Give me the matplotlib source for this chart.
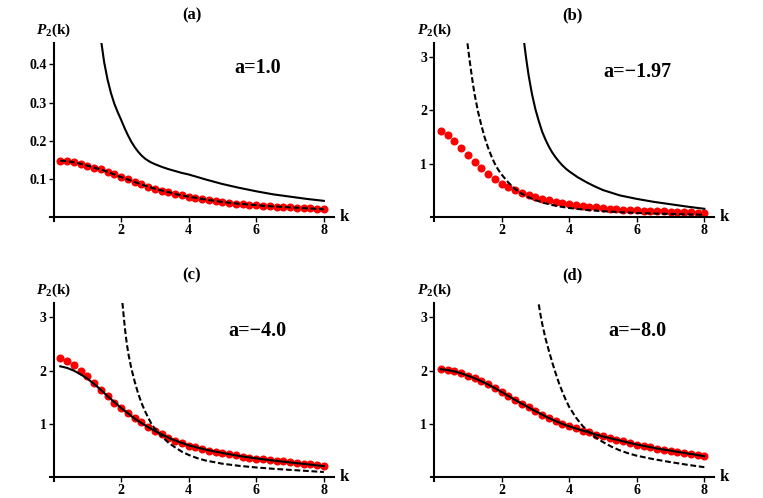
import numpy as np
import matplotlib
matplotlib.use("Agg")
import matplotlib.pyplot as plt

plt.rcParams["font.family"] = ["Liberation Serif", "DejaVu Serif"]
plt.rcParams["font.weight"] = "bold"
plt.rcParams["mathtext.fontset"] = "custom"
plt.rcParams["mathtext.rm"] = "Liberation Serif:bold"
plt.rcParams["mathtext.it"] = "Liberation Serif:italic:bold"
plt.rcParams["mathtext.bf"] = "Liberation Serif:bold"

# dot positions k = 0.2 ... 8.0
k_dots = np.round(np.arange(1, 41) * 0.2, 1)

# (a) a=1.0
a_dots = [0.148, 0.147, 0.144, 0.140, 0.135, 0.130, 0.125, 0.119, 0.112, 0.105,
          0.099, 0.092, 0.086, 0.080, 0.075, 0.070, 0.066, 0.061, 0.057, 0.054,
          0.051, 0.048, 0.045, 0.043, 0.040, 0.038, 0.036, 0.035, 0.033, 0.032,
          0.030, 0.029, 0.028, 0.027, 0.026, 0.025, 0.024, 0.023, 0.022, 0.021]
a_solid_k = [1.42, 1.5, 1.6, 1.7, 1.8, 1.9, 2.0, 2.1, 2.2, 2.3, 2.4, 2.5, 2.6,
             2.7, 2.8, 2.9, 3.0, 3.2, 3.4, 3.6, 3.8, 4.0, 4.5, 5.0, 5.5, 6.0,
             6.5, 7.0, 7.5, 8.0]
a_solid = [0.455, 0.405, 0.360, 0.325, 0.297, 0.275, 0.255, 0.234, 0.215, 0.198,
           0.184, 0.172, 0.162, 0.154, 0.148, 0.143, 0.139, 0.132, 0.126, 0.121,
           0.116, 0.112, 0.099, 0.087, 0.077, 0.068, 0.060, 0.054, 0.048, 0.043]

# (b) a=-1.97
b_dots = [1.61, 1.535, 1.425, 1.30, 1.166, 1.03, 0.92, 0.81, 0.717, 0.63,
          0.57, 0.508, 0.458, 0.415, 0.378, 0.345, 0.318, 0.293, 0.27, 0.245,
          0.228, 0.212, 0.198, 0.185, 0.173, 0.163, 0.154, 0.146, 0.139, 0.132,
          0.126, 0.120, 0.115, 0.110, 0.105, 0.101, 0.097, 0.093, 0.089, 0.085]
b_dash_k = [0.99, 1.05, 1.1, 1.15, 1.2, 1.3, 1.4, 1.5, 1.6, 1.7, 1.8, 1.9, 2.0,
            2.2, 2.4, 2.6, 2.8, 3.0, 3.25, 3.5, 3.75, 4.0, 4.5, 5.0, 5.5, 6.0,
            6.5, 7.0, 7.5, 8.0]
b_dash = [3.25, 2.95, 2.72, 2.5, 2.3, 1.98, 1.72, 1.49, 1.30, 1.14, 1.0, 0.89,
          0.80, 0.65, 0.53, 0.44, 0.375, 0.322, 0.27, 0.23, 0.20, 0.175, 0.14,
          0.115, 0.097, 0.083, 0.072, 0.063, 0.056, 0.05]
b_solid_k = [2.67, 2.72, 2.8, 2.9, 3.0, 3.1, 3.2, 3.3, 3.4, 3.5, 3.6, 3.7, 3.8,
             3.9, 4.0, 4.25, 4.5, 4.75, 5.0, 5.5, 6.0, 6.5, 7.0, 7.5, 8.0]
b_solid = [3.25, 3.0, 2.65, 2.3, 2.02, 1.8, 1.6, 1.45, 1.32, 1.21, 1.12, 1.04,
           0.97, 0.91, 0.86, 0.75, 0.66, 0.58, 0.51, 0.41, 0.345, 0.29, 0.245,
           0.2, 0.16]

# (c) a=-4.0
c_dots = [2.23, 2.18, 2.105, 2.0, 1.89, 1.76, 1.63, 1.52, 1.40, 1.29,
          1.2, 1.11, 1.03, 0.95, 0.876, 0.81, 0.745, 0.69, 0.64, 0.596,
          0.56, 0.53, 0.50, 0.475, 0.453, 0.432, 0.41, 0.39, 0.37, 0.35,
          0.337, 0.323, 0.31, 0.297, 0.285, 0.272, 0.259, 0.246, 0.233, 0.21]
c_solid_k = [0.2, 0.4, 0.6, 0.8, 1.0, 1.2, 1.4, 1.6, 1.8, 2.0, 2.2, 2.4, 2.6,
             2.8, 3.0, 3.25, 3.5, 3.75, 4.0, 4.5, 5.0, 5.5, 6.0, 6.5, 7.0,
             7.5, 8.0]
c_solid = [2.08, 2.05, 2.0, 1.93, 1.85, 1.75, 1.64, 1.52, 1.41, 1.30, 1.2,
           1.1, 1.02, 0.94, 0.87, 0.79, 0.715, 0.655, 0.6, 0.52, 0.455, 0.4,
           0.355, 0.315, 0.28, 0.245, 0.21]
c_dash_k = [2.04, 2.08, 2.12, 2.17, 2.22, 2.3, 2.4, 2.5, 2.6, 2.7, 2.8, 2.9,
            3.0, 3.2, 3.4, 3.6, 3.8, 4.0, 4.25, 4.5, 5.0, 5.5, 6.0, 6.5, 7.0,
            7.5, 8.0]
c_dash = [3.27, 3.0, 2.75, 2.5, 2.3, 2.05, 1.8, 1.58, 1.4, 1.25, 1.12, 1.0,
          0.91, 0.77, 0.65, 0.56, 0.48, 0.42, 0.36, 0.315, 0.255, 0.215, 0.185,
          0.16, 0.14, 0.12, 0.1]

# (d) a=-8.0
d_dots = [2.025, 2.01, 1.985, 1.95, 1.905, 1.855, 1.80, 1.74, 1.67, 1.60,
          1.525, 1.45, 1.38, 1.31, 1.24, 1.175, 1.11, 1.055, 1.0, 0.955,
          0.915, 0.875, 0.84, 0.80, 0.765, 0.735, 0.705, 0.675, 0.645, 0.615,
          0.59, 0.565, 0.54, 0.52, 0.50, 0.478, 0.458, 0.438, 0.418, 0.395]
d_dash_k = [3.1, 3.15, 3.2, 3.3, 3.4, 3.5, 3.6, 3.7, 3.8, 3.9, 4.0, 4.2, 4.4,
            4.6, 4.8, 5.0, 5.25, 5.5, 5.75, 6.0, 6.5, 7.0, 7.5, 8.0]
d_dash = [3.24, 3.05, 2.88, 2.6, 2.37, 2.15, 1.95, 1.76, 1.6, 1.45, 1.32,
          1.12, 0.96, 0.84, 0.74, 0.66, 0.575, 0.505, 0.45, 0.405, 0.34,
          0.285, 0.235, 0.19]

DASH = (0, (2.8, 1.3))


def style_axes(ax, ylim, yticks, yfmt):
    ax.set_xlim(-0.1, 8.3)
    ax.set_ylim(*ylim)
    for s in ["top", "right"]:
        ax.spines[s].set_visible(False)
    ax.spines["left"].set_position(("data", 0))
    ax.spines["bottom"].set_position(("data", 0))
    ax.spines["left"].set_linewidth(1.5)
    ax.spines["bottom"].set_linewidth(1.5)
    ax.set_xticks([2, 4, 6, 8])
    ax.set_xticklabels(["2", "4", "6", "8"])
    ax.set_yticks(yticks)
    ax.set_yticklabels([yfmt.format(v) for v in yticks])
    ax.tick_params(direction="out", length=3.5, width=1, labelsize=10, pad=1.5)
    ax.annotate("k", xy=(1, 0), xycoords=("axes fraction", "data"),
                xytext=(4, 0), textcoords="offset points",
                ha="left", va="center", fontsize=12)
    ax.annotate(r"$P_{\mathrm{2}}\mathrm{(k)}$", xy=(0, 1),
                xycoords=("data", "axes fraction"), xytext=(0, 9),
                textcoords="offset points", ha="center", va="center",
                fontsize=11)


fig = plt.figure(figsize=(7.63, 4.98), dpi=100)
w, h_top, h_bot = 0.372, 0.357, 0.358
ax_a = fig.add_axes([0.0657, 0.556, w, h_top])
ax_b = fig.add_axes([0.5644, 0.556, w, h_top])
ax_c = fig.add_axes([0.0657, 0.034, w, h_bot])
ax_d = fig.add_axes([0.5644, 0.034, w, h_bot])

dot_kw = dict(ls="none", marker="o", color="red", ms=5.8, mew=0, zorder=2)
line_kw = dict(color="black", lw=1.5, zorder=3)

# (a)
ax_a.plot(k_dots, a_dots, **dot_kw)
ax_a.plot(k_dots, a_dots, ls=DASH, **line_kw)
ax_a.plot(a_solid_k, a_solid, **line_kw)
style_axes(ax_a, (-0.01, 0.455), [0.1, 0.2, 0.3, 0.4], "{:.1f}")

# (b)
ax_b.plot(k_dots, b_dots, **dot_kw)
ax_b.plot(b_dash_k, b_dash, ls=DASH, **line_kw)
ax_b.plot(b_solid_k, b_solid, **line_kw)
style_axes(ax_b, (-0.07, 3.25), [1, 2, 3], "{:d}")

# (c)
ax_c.plot(k_dots, c_dots, **dot_kw)
ax_c.plot(c_solid_k, c_solid, **line_kw)
ax_c.plot(c_dash_k, c_dash, ls=DASH, **line_kw)
style_axes(ax_c, (-0.07, 3.27), [1, 2, 3], "{:d}")

# (d)
ax_d.plot(k_dots, d_dots, **dot_kw)
ax_d.plot(k_dots, d_dots, **line_kw)
ax_d.plot(d_dash_k, d_dash, ls=DASH, **line_kw)
style_axes(ax_d, (-0.07, 3.27), [1, 2, 3], "{:d}")

labels = ["(a)", "(b)", "(c)", "(d)"]
params = ["a=1.0", "a=\u22121.97", "a=\u22124.0", "a=\u22128.0"]
pos_y = [0.86, 0.84, 0.84, 0.84]
for ax, lab, par, py in zip([ax_a, ax_b, ax_c, ax_d], labels, params, pos_y):
    ax.set_title(lab, fontsize=12, fontweight="bold", pad=17)
    ax.text(0.73, py, par, transform=ax.transAxes, ha="center", va="center",
            fontsize=14.5, fontweight="bold")

fig.savefig("out.png", dpi=100)
